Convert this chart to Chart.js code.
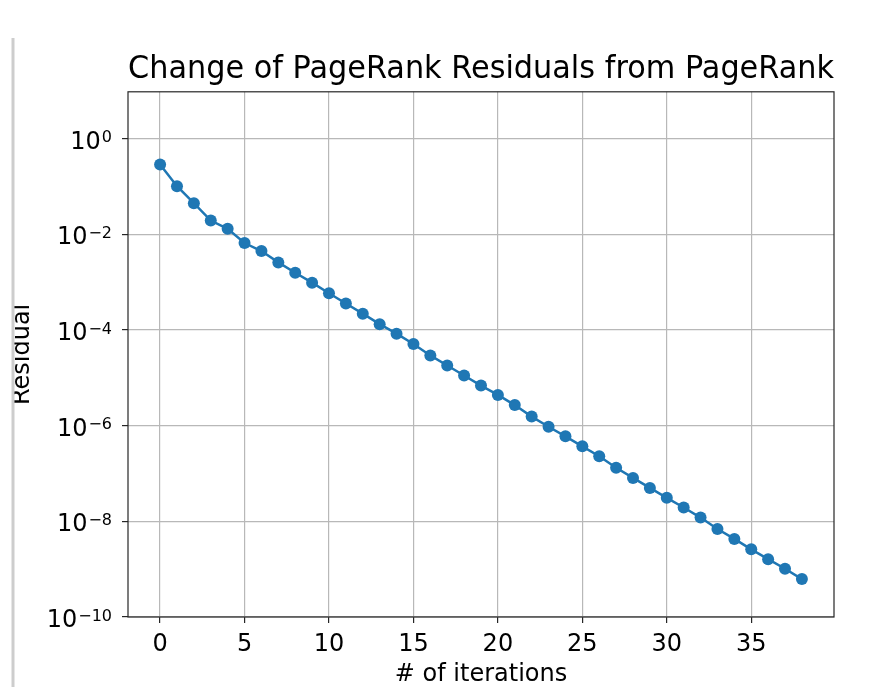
<!DOCTYPE html>
<html>
<head>
<meta charset="utf-8">
<script src="https://cdn.jsdelivr.net/npm/chart.js@4/dist/chart.umd.min.js"></script>
<style>
    html, body { margin: 0; padding: 0; background: #fff; }
    #wrap { width: 890px; height: 687px; }
</style>
</head>
<body>
<div id="wrap"><canvas id="residuals"></canvas></div>
<script>
const iterations = [0, 1, 2, 3, 4, 5, 6, 7, 8, 9, 10, 11, 12, 13, 14, 15, 16, 17, 18, 19,
    20, 21, 22, 23, 24, 25, 26, 27, 28, 29, 30, 31, 32, 33, 34, 35, 36, 37, 38];
const residuals = [0.29, 0.102, 0.045, 0.0195, 0.0131, 0.0066, 0.0045, 0.0026, 0.00158, 9.8e-4,
    5.9e-4, 3.6e-4, 2.2e-4, 1.33e-4, 8.4e-5, 5.1e-5, 2.95e-5, 1.82e-5, 1.12e-5, 6.9e-6,
    4.4e-6, 2.7e-6, 1.55e-6, 9.5e-7, 6.0e-7, 3.7e-7, 2.3e-7, 1.32e-7, 8.1e-8, 5.0e-8,
    3.1e-8, 1.95e-8, 1.2e-8, 6.9e-9, 4.3e-9, 2.6e-9, 1.62e-9, 1.02e-9, 6.2e-10];
const xTicks = [0, 5, 10, 15, 20, 25, 30, 35];
const yTicks = [1e-10, 1e-8, 1e-6, 1e-4, 1e-2, 1e0];
const yTickBase = '10';
const yTickExponents = ['−10', '−8', '−6', '−4', '−2', '0'];

const font = 'DejaVu Sans';
const blue = '#1f77b4';

// y tick labels as 10 with a raised exponent, placed by the y scale
const logLabelPlugin = {
    id: 'logLabels',
    afterDraw(chart) {
        const ctx = chart.ctx;
        const y = chart.scales.y;
        const right = y.right - 16;
        ctx.save();
        ctx.fillStyle = '#000';
        ctx.textAlign = 'right';
        ctx.textBaseline = 'alphabetic';
        yTicks.forEach((v, i) => {
            const py = y.getPixelForValue(v);
            ctx.font = '16px "' + font + '"';
            const ew = ctx.measureText(yTickExponents[i]).width;
            ctx.fillText(yTickExponents[i], right, py + 3.5);
            ctx.font = '24px "' + font + '"';
            ctx.fillText(yTickBase, right - ew - 1, py + 10);
        });
        ctx.restore();
    }
};

// frame round the plot + the grey strip on the left edge of the screenshot
const framePlugin = {
    id: 'frame',
    afterDraw(chart) {
        const ctx = chart.ctx;
        const a = chart.chartArea;
        ctx.save();
        ctx.strokeStyle = '#262626';
        ctx.lineWidth = 1.2;
        ctx.strokeRect(a.left, a.top, a.right - a.left, a.bottom - a.top);
        ctx.fillStyle = '#fff';
        ctx.fillRect(0, 0, 12, chart.height);
        ctx.strokeStyle = '#cdcdcd';
        ctx.lineWidth = 3;
        ctx.beginPath();
        ctx.moveTo(13, 38);
        ctx.lineTo(13, chart.height);
        ctx.stroke();
        ctx.restore();
    }
};

const chartConfig = {
    type: 'line',
    data: {
        datasets: [
            {
                label: 'residual',
                data: iterations.map((it, i) => ({ x: it, y: residuals[i] })),
                borderColor: blue,
                backgroundColor: blue,
                borderWidth: 2.5,
                pointRadius: 6,
                pointBorderWidth: 0,
                pointBackgroundColor: blue,
                tension: 0
            }
        ]
    },
    options: {
        animation: false,
        responsive: true,
        maintainAspectRatio: false,
        layout: {
            padding: { left: 0, right: 56, top: 0, bottom: 0 }
        },
        plugins: {
            legend: { display: false },
            tooltip: { enabled: false },
            title: {
                display: true,
                fullSize: false,
                text: 'Change of PageRank Residuals from PageRank',
                color: '#000',
                font: { family: font, size: 31.5, weight: 'normal' },
                padding: { top: 51, bottom: 3 }
            }
        },
        scales: {
            x: {
                type: 'linear',
                min: -1.9,
                max: 39.9,
                afterBuildTicks: scale => {
                    scale.ticks = xTicks.map(v => ({ value: v }));
                },
                afterFit: scale => {
                    scale.height = 70;
                },
                grid: {
                    color: '#b8b8b8',
                    lineWidth: 1.2,
                    tickColor: '#262626',
                    tickLength: 6,
                    drawTicks: true
                },
                border: { display: false },
                ticks: {
                    color: '#000',
                    padding: 7,
                    font: { family: font, size: 24 },
                    maxRotation: 0,
                    autoSkip: false
                },
                title: {
                    display: true,
                    text: '# of iterations',
                    color: '#000',
                    font: { family: font, size: 24 },
                    padding: { top: 0, bottom: -2 }
                }
            },
            y: {
                type: 'logarithmic',
                min: 1e-10,
                max: 9.6,
                afterBuildTicks: scale => {
                    scale.ticks = yTicks.map(v => ({ value: v }));
                },
                afterFit: scale => {
                    scale.width = 128;
                },
                grid: {
                    color: '#b8b8b8',
                    lineWidth: 1.2,
                    tickColor: '#262626',
                    tickLength: 6,
                    drawTicks: true
                },
                border: { display: false },
                ticks: {
                    display: false
                },
                title: {
                    display: true,
                    text: 'Residual',
                    color: '#000',
                    font: { family: font, size: 24 },
                    padding: { top: 8, bottom: 0 }
                }
            }
        }
    },
    plugins: [logLabelPlugin, framePlugin]
};

const chart = new Chart(
    document.querySelector('#residuals'),
    chartConfig
);
</script>
</body>
</html>
